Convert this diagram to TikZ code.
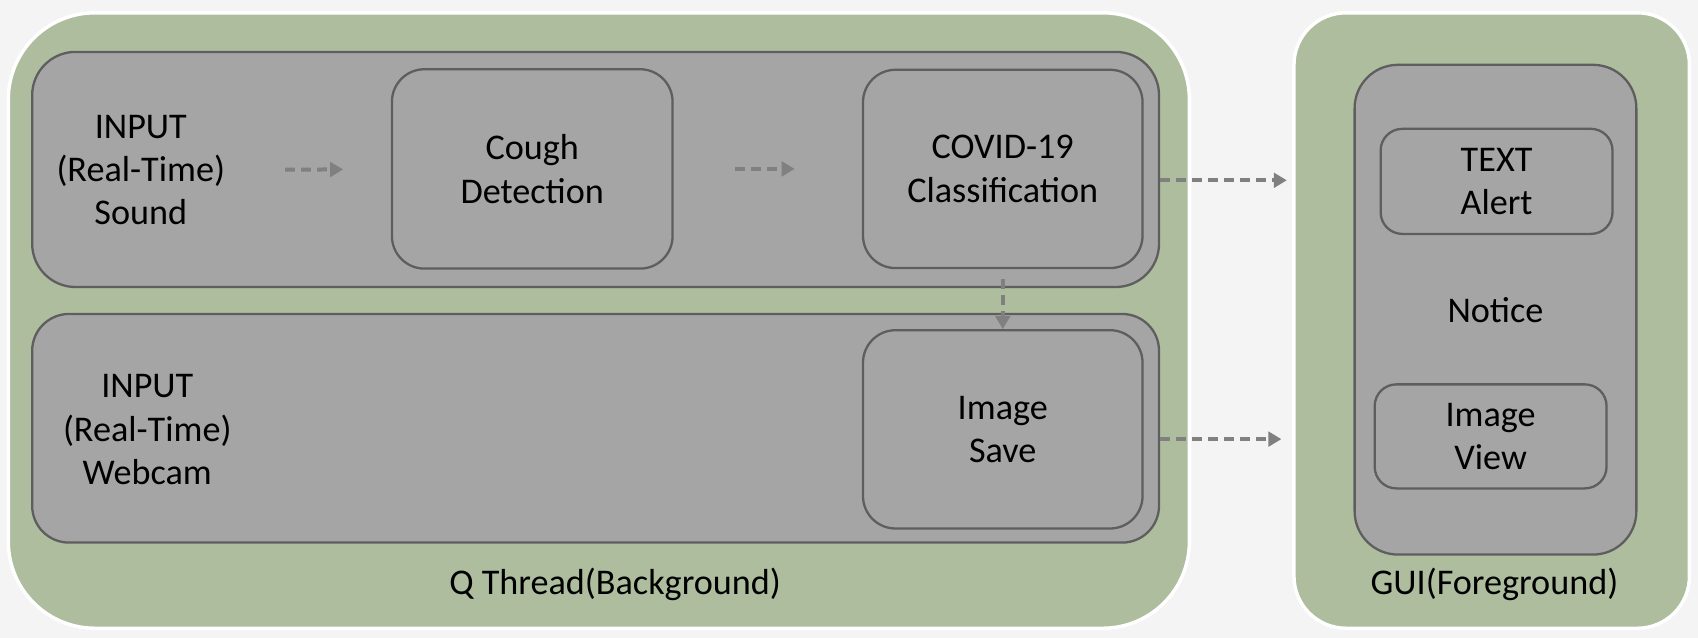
\documentclass[tikz,border=0pt]{standalone}
\usepackage{fontspec}
\setmainfont{Carlito}
\usetikzlibrary{arrows.meta}
\definecolor{bggray}{HTML}{F4F4F4}
\definecolor{sage}{HTML}{ADBD9E}
\definecolor{boxgray}{HTML}{A5A5A5}
\definecolor{edgegray}{HTML}{5E5E5E}
\definecolor{arrowgray}{HTML}{808080}

\begin{document}
\begin{tikzpicture}[x=0.01cm, y=-0.01cm,
	every node/.style={font=\fontsize{9.5}{11.4}\selectfont, align=center},
	thread/.style={fill=sage, draw=white, line width=0.9pt, inner sep=0},
	panel/.style={fill=boxgray, draw=edgegray, line width=0.6pt, inner sep=0},
	flow/.style={draw=arrowgray, line width=1.05pt, dash pattern=on 2.6pt off 1.6pt, -{Triangle[length=3.4pt,width=3.8pt]}}]
	\fill[bggray] (0,0) rectangle (1568,589);
	\useasboundingbox (0,0) rectangle (1568,589);

	% background thread and gui
	\node[thread, rounded corners=0.8cm, minimum width=10.9cm, minimum height=5.68cm] (qthread) at (553,296) {};
	\node[thread, rounded corners=0.48cm, minimum width=3.65cm, minimum height=5.68cm] (gui) at (1377.5,296) {};
	\node (qlabel) at (568,540) {Q Thread(Background)};
	\node (guilabel) at (1380,540) {GUI(Foreground)};

	% rows
	\node[panel, rounded corners=0.4cm, minimum width=10.4cm, minimum height=2.17cm] (soundrow) at (550,156.5) {};
	\node[panel, rounded corners=0.34cm, minimum width=10.4cm, minimum height=2.11cm] (camrow) at (550,395.5) {};

	\node (soundin) at (130,157) {INPUT\\(Real-Time)\\Sound};
	\node (camin) at (136,397) {INPUT\\(Real-Time)\\Webcam};

	\node[panel, rounded corners=0.3cm, minimum width=2.59cm, minimum height=1.84cm] (cough) at (491.5,156) {Cough\\Detection};
	\node[panel, rounded corners=0.3cm, minimum width=2.58cm, minimum height=1.83cm] (covid) at (926,156) {COVID-19\\Classification};
	\node[panel, rounded corners=0.3cm, minimum width=2.58cm, minimum height=1.83cm] (imgsave) at (926,396.5) {Image\\Save};

	% gui side
	\node[panel, rounded corners=0.4cm, minimum width=2.6cm, minimum height=4.52cm] (notice) at (1381,286) {Notice};
	\node[panel, rounded corners=0.2cm, minimum width=2.14cm, minimum height=0.97cm] (alert) at (1382,167.5) {TEXT\\Alert};
	\node[panel, rounded corners=0.2cm, minimum width=2.14cm, minimum height=0.96cm] (imgview) at (1376.5,403) {Image\\View};

	% arrows
	\draw[flow, shorten <=0.43cm, shorten >=0.44cm] (soundin) -- (cough);
	\draw[flow, shorten <=0.57cm, shorten >=0.62cm] (cough) -- (covid);
	\draw[flow, shorten <=0.09cm] (covid) -- (imgsave);
	\draw[flow, shorten >=0.05cm] ([yshift=-0.1cm]soundrow.east) -- ([yshift=-0.1cm]soundrow.east -| gui.west);
	\draw[flow, shorten >=0.1cm] ([yshift=-0.1cm]camrow.east) -- ([yshift=-0.1cm]camrow.east -| gui.west);
\end{tikzpicture}
\end{document}
